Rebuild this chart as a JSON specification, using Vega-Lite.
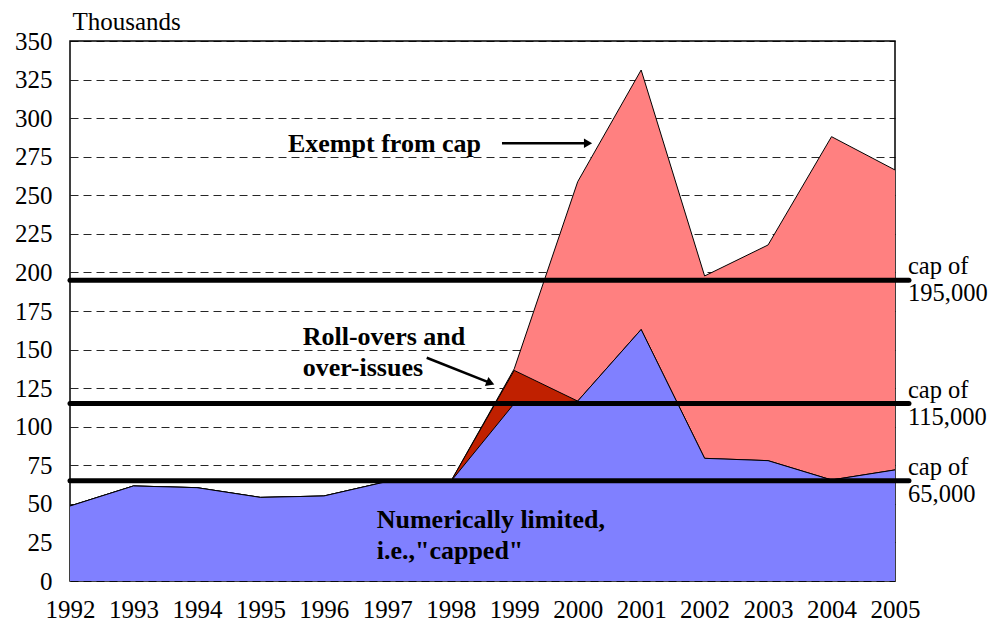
{
  "$schema": "https://vega.github.io/schema/vega-lite/v6.json",
  "width": 825,
  "height": 540,
  "autosize": {"type": "none"},
  "padding": {"left": 70, "top": 41, "right": 97, "bottom": 41},
  "background": "#ffffff",
  "config": {
    "font": "Liberation Serif",
    "view": {"stroke": "#000000", "strokeWidth": 1.5},
    "style": {"guide-label": {"font": "Liberation Serif", "fontSize": 25}, "guide-title": {"font": "Liberation Serif", "fontSize": 25}},
    "axis": {"labelColor": "#000000", "titleColor": "#000000", "labelFont": "Liberation Serif", "titleFont": "Liberation Serif", "labelFontSize": 25, "titleFontSize": 25},
    "axisX": {"ticks": false, "tickSize": 0, "labelPadding": 16, "domain": false, "grid": false, "labelFlush": false, "labelOverlap": false, "format": "d"},
    "axisY": {"ticks": false, "tickSize": 0, "labelPadding": 18, "domain": false, "grid": true, "gridColor": "#000000", "gridDash": [8, 5], "gridWidth": 1, "gridOpacity": 0.85, "labelOverlap": false, "titleAngle": 0, "titleAlign": "left", "titleBaseline": "middle", "titleX": 2, "titleY": -20, "titleFontWeight": "normal"}
  },
  "datasets": {
    "h1b": [
      {"year": 1992, "capped": 48.6, "with_rollovers": 48.6, "total": 48.6},
      {"year": 1993, "capped": 61.6, "with_rollovers": 61.6, "total": 61.6},
      {"year": 1994, "capped": 60.5, "with_rollovers": 60.5, "total": 60.5},
      {"year": 1995, "capped": 54.2, "with_rollovers": 54.2, "total": 54.2},
      {"year": 1996, "capped": 55.1, "with_rollovers": 55.1, "total": 55.1},
      {"year": 1997, "capped": 64.5, "with_rollovers": 64.5, "total": 64.5},
      {"year": 1998, "capped": 64.5, "with_rollovers": 64.5, "total": 64.5},
      {"year": 1999, "capped": 115, "with_rollovers": 136.5, "total": 137.5},
      {"year": 2000, "capped": 116.6, "with_rollovers": 116.6, "total": 258.8},
      {"year": 2001, "capped": 163, "with_rollovers": 163, "total": 331.2},
      {"year": 2002, "capped": 79.5, "with_rollovers": 79.5, "total": 197.7},
      {"year": 2003, "capped": 78, "with_rollovers": 78, "total": 217.8},
      {"year": 2004, "capped": 65.5, "with_rollovers": 65.5, "total": 288},
      {"year": 2005, "capped": 72, "with_rollovers": 72, "total": 266.4}
    ],
    "caps": [
      {"cap": 195, "label": "cap of\n195,000"},
      {"cap": 115, "label": "cap of\n115,000"},
      {"cap": 65, "label": "cap of\n65,000"}
    ],
    "notes": [
      {"year": 1995.435, "value": 283.2, "text": "Exempt from cap"},
      {"year": 1995.667, "value": 158.3, "text": "Roll-overs and\nover-issues"},
      {"year": 1996.833, "value": 39.5, "text": "Numerically limited,\ni.e.,\"capped\""}
    ],
    "arrows": [
      {"from_year": 1998.807, "from_value": 283.7, "to_year": 2000.16, "to_value": 283.7, "head_year": 2000.163, "head_value": 283.7, "direction": 0},
      {"from_year": 1997.621, "from_value": 144.7, "to_year": 1998.62, "to_value": 128.4, "head_year": 1998.625, "head_value": 128.3, "direction": 21.8}
    ]
  },
  "layer": [
    {
      "data": {"name": "h1b"},
      "mark": {"type": "area", "color": "#FF8080", "opacity": 1, "line": {"color": "#000000", "strokeWidth": 1}},
      "encoding": {
        "x": {"field": "year", "type": "quantitative", "scale": {"domain": [1992, 2005], "nice": false, "zero": false}, "title": null,
          "axis": {"values": [1992, 1993, 1994, 1995, 1996, 1997, 1998, 1999, 2000, 2001, 2002, 2003, 2004, 2005], "title": null}},
        "y": {"field": "total", "type": "quantitative", "scale": {"domain": [0, 350], "nice": false}, "title": "Thousands",
          "axis": {"values": [0, 25, 50, 75, 100, 125, 150, 175, 200, 225, 250, 275, 300, 325, 350], "title": "Thousands"}}
      }
    },
    {
      "data": {"name": "h1b"},
      "mark": {"type": "area", "color": "#C02000", "opacity": 1, "line": {"color": "#000000", "strokeWidth": 1}},
      "encoding": {
        "x": {"field": "year", "type": "quantitative", "title": null,
          "axis": {"values": [1992, 1993, 1994, 1995, 1996, 1997, 1998, 1999, 2000, 2001, 2002, 2003, 2004, 2005], "title": null}},
        "y": {"field": "with_rollovers", "type": "quantitative", "title": "Thousands",
          "axis": {"values": [0, 25, 50, 75, 100, 125, 150, 175, 200, 225, 250, 275, 300, 325, 350], "title": "Thousands"}}
      }
    },
    {
      "data": {"name": "h1b"},
      "mark": {"type": "area", "color": "#8080FF", "opacity": 1, "line": {"color": "#000000", "strokeWidth": 1}},
      "encoding": {
        "x": {"field": "year", "type": "quantitative", "title": null,
          "axis": {"values": [1992, 1993, 1994, 1995, 1996, 1997, 1998, 1999, 2000, 2001, 2002, 2003, 2004, 2005], "title": null}},
        "y": {"field": "capped", "type": "quantitative", "title": "Thousands",
          "axis": {"values": [0, 25, 50, 75, 100, 125, 150, 175, 200, 225, 250, 275, 300, 325, 350], "title": "Thousands"}}
      }
    },
    {
      "data": {"name": "caps"},
      "mark": {"type": "rule", "color": "#000000", "strokeWidth": 5, "strokeCap": "round"},
      "encoding": {
        "x": {"datum": 1992, "type": "quantitative", "title": null,
          "axis": {"values": [1992, 1993, 1994, 1995, 1996, 1997, 1998, 1999, 2000, 2001, 2002, 2003, 2004, 2005], "title": null}},
        "x2": {"datum": 2005.22},
        "y": {"field": "cap", "type": "quantitative", "title": "Thousands",
          "axis": {"values": [0, 25, 50, 75, 100, 125, 150, 175, 200, 225, 250, 275, 300, 325, 350], "title": "Thousands"}}
      }
    },
    {
      "data": {"name": "caps"},
      "mark": {"type": "text", "align": "left", "baseline": "middle", "dx": 13, "dy": -13, "font": "Liberation Serif", "fontSize": 24.5, "lineBreak": "\n", "lineHeight": 27, "color": "#000000"},
      "encoding": {
        "x": {"datum": 2005, "type": "quantitative", "title": null,
          "axis": {"values": [1992, 1993, 1994, 1995, 1996, 1997, 1998, 1999, 2000, 2001, 2002, 2003, 2004, 2005], "title": null}},
        "y": {"field": "cap", "type": "quantitative", "title": "Thousands",
          "axis": {"values": [0, 25, 50, 75, 100, 125, 150, 175, 200, 225, 250, 275, 300, 325, 350], "title": "Thousands"}},
        "text": {"field": "label", "type": "nominal"}
      }
    },
    {
      "data": {"name": "notes"},
      "mark": {"type": "text", "align": "left", "baseline": "middle", "font": "Liberation Serif", "fontSize": 26, "fontWeight": "bold", "lineBreak": "\n", "lineHeight": 31, "color": "#000000"},
      "encoding": {
        "x": {"field": "year", "type": "quantitative", "title": null,
          "axis": {"values": [1992, 1993, 1994, 1995, 1996, 1997, 1998, 1999, 2000, 2001, 2002, 2003, 2004, 2005], "title": null}},
        "y": {"field": "value", "type": "quantitative", "title": "Thousands",
          "axis": {"values": [0, 25, 50, 75, 100, 125, 150, 175, 200, 225, 250, 275, 300, 325, 350], "title": "Thousands"}},
        "text": {"field": "text", "type": "nominal"}
      }
    },
    {
      "data": {"name": "arrows"},
      "mark": {"type": "rule", "color": "#000000", "strokeWidth": 2.5},
      "encoding": {
        "x": {"field": "from_year", "type": "quantitative", "title": null,
          "axis": {"values": [1992, 1993, 1994, 1995, 1996, 1997, 1998, 1999, 2000, 2001, 2002, 2003, 2004, 2005], "title": null}},
        "y": {"field": "from_value", "type": "quantitative", "title": "Thousands",
          "axis": {"values": [0, 25, 50, 75, 100, 125, 150, 175, 200, 225, 250, 275, 300, 325, 350], "title": "Thousands"}},
        "x2": {"field": "to_year"},
        "y2": {"field": "to_value"}
      }
    },
    {
      "data": {"name": "arrows"},
      "mark": {"type": "point", "shape": "triangle-right", "filled": true, "color": "#000000", "size": 90, "opacity": 1},
      "encoding": {
        "x": {"field": "head_year", "type": "quantitative", "title": null,
          "axis": {"values": [1992, 1993, 1994, 1995, 1996, 1997, 1998, 1999, 2000, 2001, 2002, 2003, 2004, 2005], "title": null}},
        "y": {"field": "head_value", "type": "quantitative", "title": "Thousands",
          "axis": {"values": [0, 25, 50, 75, 100, 125, 150, 175, 200, 225, 250, 275, 300, 325, 350], "title": "Thousands"}},
        "angle": {"field": "direction", "type": "quantitative", "scale": null}
      }
    }
  ]
}
